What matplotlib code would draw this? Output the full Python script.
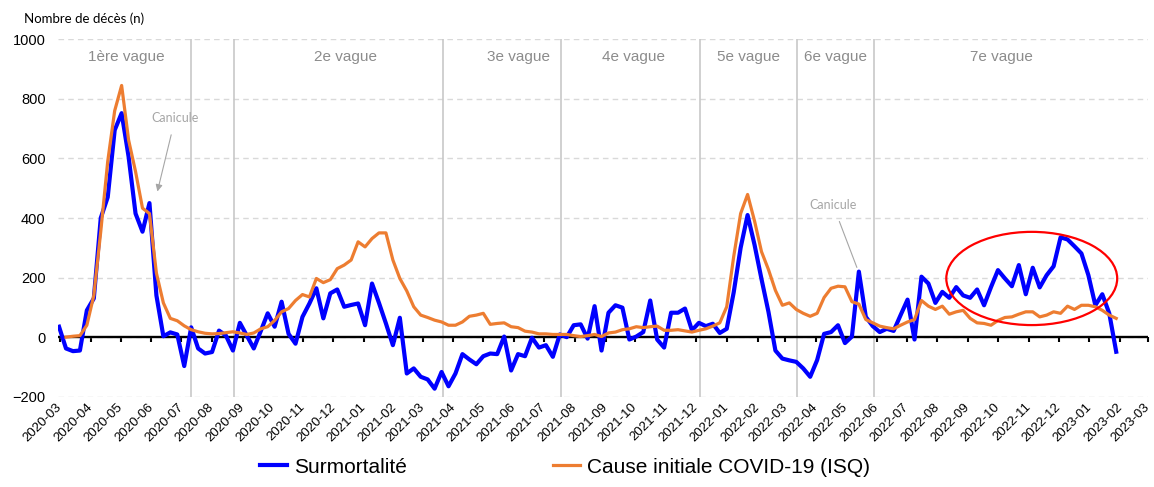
import numpy as np
import pandas as pd
import matplotlib
matplotlib.use("Agg")
import matplotlib.pyplot as plt
import matplotlib.dates as mdates
from matplotlib.patches import Ellipse

plt.rcParams['font.family'] = ['Liberation Sans', 'DejaVu Sans']

# weekly values (week ending on Saturday)
start_week = "2020-02-29"
surmortalite = [
    35, -38, -47, -45, 90, 130, 400, 470, 695, 752,
    606, 415, 354, 450, 140, 3, 16, 9, -97, 33,
    -38, -55, -50, 22, 5, -45, 48, 5, -38, 20,
    80, 35, 119, 11, -22, 68, 113, 164, 63, 147,
    160, 102, 108, 113, 40, 180, 115, 46, -27, 65,
    -122, -105, -133, -142, -173, -117, -165, -122, -57, -75,
    -91, -64, -55, -57, 2, -112, -57, -64, -2, -35,
    -27, -66, 9, 0, 40, 43, -5, 104, -45, 82,
    107, 99, -8, 2, 17, 123, -8, -35, 82, 82,
    96, 23, 48, 37, 45, 14, 28, 150, 300, 410,
    310, 195, 85, -45, -72, -78, -83, -105, -133, -77,
    11, 17, 40, -20, 2, 220, 68, 37, 17, 28,
    21, 74, 126, -8, 203, 180, 115, 152, 132, 168,
    140, 132, 160, 107, 168, 225, 197, 171, 242, 144,
    233, 167, 208, 238, 335, 328, 305, 281, 208, 107,
    144, 80, -49,
]
covid_isq = [
    np.nan, 0, 3, 5, 40, 140, 355, 590, 760, 845,
    662, 556, 433, 415, 215, 115, 63, 55, 38, 25,
    18, 13, 11, 12, 15, 18, 14, 9, 14, 28,
    35, 56, 85, 96, 123, 143, 135, 197, 183, 193,
    230, 242, 259, 320, 303, 331, 350, 350, 259, 197,
    155, 102, 74, 66, 57, 51, 40, 40, 51, 70,
    74, 80, 43, 46, 48, 35, 32, 20, 17, 11,
    11, 9, 9, 9, 5, 2, 5, 9, 2, 14,
    17, 25, 28, 35, 32, 35, 37, 23, 23, 25,
    21, 17, 23, 28, 37, 48, 102, 270, 415, 479,
    390, 287, 227, 157, 107, 115, 93, 80, 70, 80,
    133, 164, 171, 169, 119, 111, 59, 48, 37, 32,
    28, 40, 51, 59, 123, 104, 93, 104, 77, 85,
    90, 63, 48, 46, 40, 56, 66, 68, 77, 85,
    85, 68, 74, 85, 80, 104, 93, 107, 107, 102,
    90, 74, 63,
]

wave_starts = ["2020-07-11", "2020-08-23", "2021-03-21", "2021-07-18",
               "2021-12-05", "2022-03-13", "2022-05-29"]
wave_labels = ["1ère vague", "2e vague", "3e vague", "4e vague",
               "5e vague", "6e vague", "7e vague"]
wave_label_dates = ["2020-05-07", "2020-12-13", "2021-06-05", "2021-09-29",
                    "2022-01-23", "2022-04-20", "2022-10-04"]

weeks = pd.date_range(start_week, periods=len(surmortalite), freq="7D")

fig = plt.figure(figsize=(11.54, 4.87), dpi=100)
ax = fig.add_axes([0.0503, 0.1854, 0.9445, 0.7339])

ax.set_ylim(-200, 1000)
ax.set_xlim(pd.Timestamp("2020-02-28"), pd.Timestamp("2023-03-01"))
ax.set_yticks(range(-200, 1001, 200))
ax.yaxis.grid(True, color="#d9d9d9", lw=1, ls=(0, (4, 3)))
ax.set_axisbelow(True)
for s in ax.spines.values():
    s.set_visible(False)
ax.tick_params(axis="y", length=0, labelsize=10.5, pad=9)

months = pd.date_range("2020-03-01", "2023-03-01", freq="MS")
ax.set_xticks(months)
ax.xaxis.set_major_formatter(mdates.DateFormatter("%Y-%m"))
ax.tick_params(axis="x", length=0, labelsize=9.5, pad=6)
plt.setp(ax.get_xticklabels(), rotation=45, ha="right", va="center",
         rotation_mode="anchor")

# wave separators
for d in wave_starts:
    ax.axvline(pd.Timestamp(d), color="#c8c8c8", lw=1.2, zorder=1)
for lab, d in zip(wave_labels, wave_label_dates):
    ax.text(pd.Timestamp(d), 941, lab, ha="center", va="center",
            fontsize=11, color="#8c8c8c")

# zero line with month ticks
ax.axhline(0, color="black", lw=1.7, zorder=2)
sec = ax.secondary_xaxis(1 / 6)
sec.set_xticks(months)
sec.tick_params(axis="x", direction="out", length=3.5, width=1.5,
                labelbottom=False, color="black")
sec.spines["bottom"].set_visible(False)

ax.plot(weeks, surmortalite, color="#0000ff", lw=3.0, zorder=3,
        label="Surmortalité")
ax.plot(weeks, covid_isq, color="#ed7d31", lw=2.3, zorder=4,
        label="Cause initiale COVID-19 (ISQ)")

# canicule annotations
ax.annotate("Canicule", xy=(pd.Timestamp("2020-06-07"), 489),
            xytext=(pd.Timestamp("2020-06-25"), 736),
            ha="center", va="center", fontsize=9, color="#a6a6a6",
            family=["Lato", "DejaVu Sans"],
            arrowprops=dict(arrowstyle="-|>", color="#a6a6a6", lw=0.8,
                            shrinkA=6, shrinkB=0, mutation_scale=10))
ax.annotate("Canicule", xy=(pd.Timestamp("2022-05-12"), 234),
            xytext=(pd.Timestamp("2022-04-18"), 444),
            ha="center", va="center", fontsize=9, color="#a6a6a6",
            family=["Lato", "DejaVu Sans"],
            arrowprops=dict(arrowstyle="-", color="#a6a6a6", lw=0.8,
                            shrinkA=6, shrinkB=0))

# red ellipse around the autumn 2022 excess
centre = mdates.date2num(pd.Timestamp("2022-11-04"))
ax.add_patch(Ellipse((centre, 197), width=172, height=313, fill=False,
                     edgecolor="#ff0000", lw=1.6, zorder=5))

fig.text(24 / 1154, 1 - 19 / 487, "Nombre de décès (n)", fontsize=9.5,
         ha="left", va="center", family=["Lato", "DejaVu Sans"])

fig.legend(loc="center", bbox_to_anchor=(0.4896, 0.041), ncol=2,
           frameon=False, fontsize=15, handlelength=1.3, handletextpad=0.35,
           columnspacing=7.0)

fig.savefig("out.png", dpi=100)
